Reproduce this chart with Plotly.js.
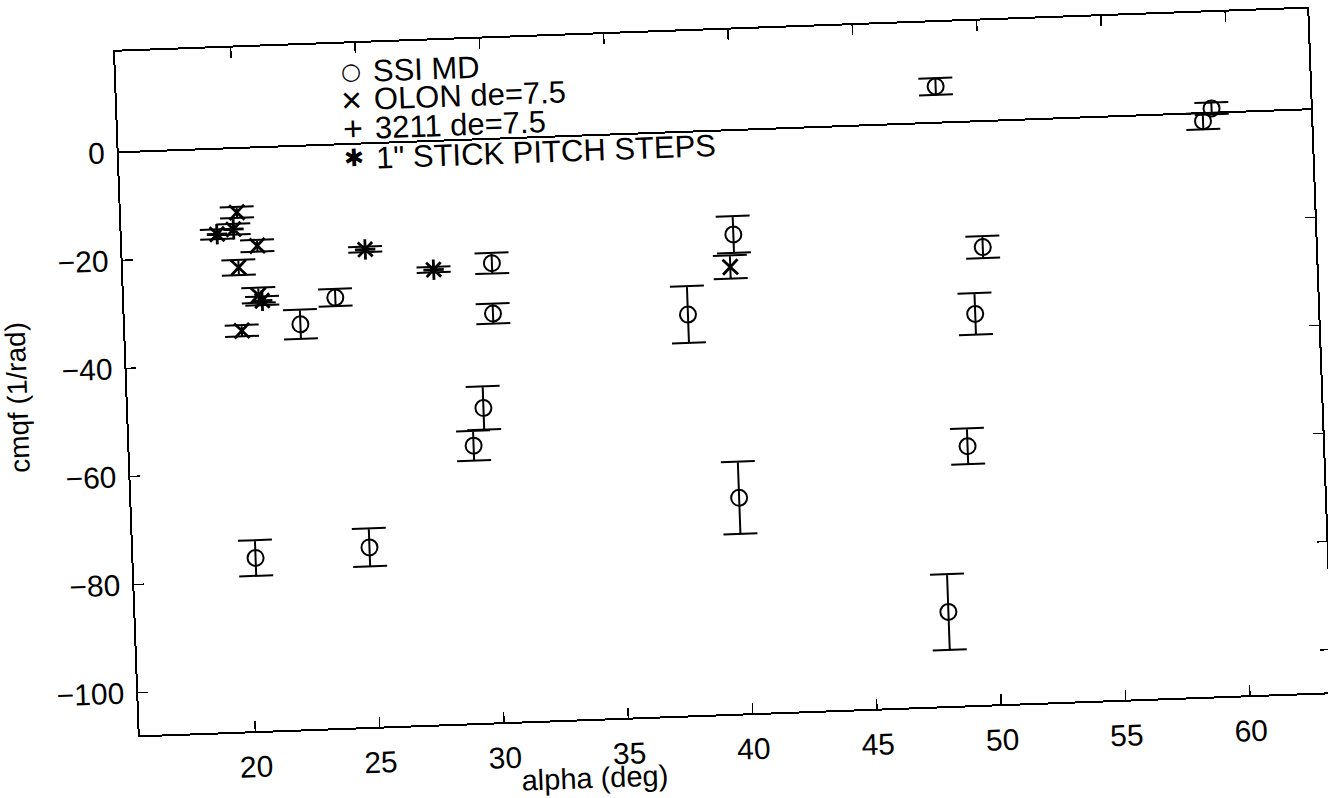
<!DOCTYPE html>
<html>
<head>
<meta charset="utf-8">
<script src="https://cdn.plot.ly/plotly-3.0.1.min.js"></script>
<style>
html,body{margin:0;padding:0;background:#fff;overflow:hidden;}
#chart{width:1328px;height:798px;transform:rotate(-2.07deg);transform-origin:723.5px 372px;}
</style>
</head>
<body>
<div id="chart"></div>
<script>
// SSI MD (circles)
const ssiAlpha = [20.26, 24.85, 22.40, 23.84, 30.18, 30.15, 29.63, 29.18, 39.92, 37.98, 39.77, 48.26, 49.92, 49.52, 49.02, 48.01, 59.31, 58.95];
const ssiCmqf  = [-75.9, -74.7, -33.0, -28.3, -23.0, -32.3, -49.7, -56.6, -19.3, -33.8, -68.0, 6.7, -23.3, -35.6, -60.0, -90.5, 0.8, -1.5];
const ssiErr   = [3.3, 3.5, 2.7, 1.6, 1.9, 1.85, 4.0, 2.75, 3.4, 5.25, 6.7, 1.55, 2.05, 3.85, 3.3, 7.0, 1.1, 1.5];

// OLON de=7.5 (x marks)
const olonAlpha = [20.01, 20.78, 20.00, 20.76, 20.04, 39.75];
const olonCmqf  = [-11.9, -18.2, -22.1, -27.35, -33.8, -25.3];
const olonErr   = [1.0, 1.1, 1.4, 1.4, 1.05, 2.15];

// 1" STICK PITCH STEPS (asterisks)
const stickAlpha = [19.18, 19.85, 20.90, 25.11, 27.83];
const stickCmqf  = [-15.8, -15.0, -28.4, -19.6, -23.8];
const stickErr   = [0.9, 1.0, 0.8, 0.5, 0.5];

const xTicks = [20, 25, 30, 35, 40, 45, 50, 55, 60];
const yTicks = [-100, -80, -60, -40, -20, 0];

const legendLabels  = ['SSI MD', 'OLON de=7.5', '3211 de=7.5', '1" STICK PITCH STEPS'];
const legendSymbols = ['\u25CB', '\u00D7', '+', '\u2731'];

const FONT = 'Liberation Sans, Arial, Helvetica, sans-serif';

function errBar(arr) {
  return {type: 'data', array: arr, visible: true, color: '#000', thickness: 2, width: 17};
}

const traces = [
  {type: 'scatter', mode: 'markers', name: legendLabels[0], x: ssiAlpha, y: ssiCmqf,
   error_y: errBar(ssiErr),
   marker: {symbol: 'circle-open', size: 16, color: '#000', line: {width: 2, color: '#000'}},
   showlegend: false, cliponaxis: false},
  {type: 'scatter', mode: 'markers', name: legendLabels[1], x: olonAlpha, y: olonCmqf,
   error_y: errBar(olonErr),
   marker: {symbol: 'x-thin-open', size: 15, color: '#000', line: {width: 2.8, color: '#000'}},
   showlegend: false, cliponaxis: false},
  {type: 'scatter', mode: 'markers', name: legendLabels[3], x: stickAlpha, y: stickCmqf,
   error_y: errBar(stickErr),
   marker: {symbol: 'asterisk-open', size: 17, color: '#000', line: {width: 2.8, color: '#000'}},
   showlegend: false, cliponaxis: false}
];

const legRowY = [13.4, 8.1, 2.8, -2.7];
const annotations = [];
legendLabels.forEach(function (lab, i) {
  annotations.push({xref: 'x', yref: 'y', x: 25.6, y: legRowY[i], text: lab, showarrow: false,
    xanchor: 'left', yanchor: 'middle', font: {family: FONT, size: 31, color: '#000'}});
  const symSize = [23, 36, 34, 24][i];
  const symFont = ['DejaVu Sans', FONT, FONT, 'DejaVu Sans'][i];
  annotations.push({xref: 'x', yref: 'y', x: 24.78, y: legRowY[i], text: legendSymbols[i], showarrow: false,
    xanchor: 'center', yanchor: 'middle', font: {family: symFont, size: symSize, color: '#000'}});
});
annotations.push({xref: 'paper', yref: 'paper', x: 0.38, y: 0, yshift: -59, text: 'alpha (deg)',
  showarrow: false, xanchor: 'center', yanchor: 'middle', font: {family: FONT, size: 29, color: '#000'}});

const axisCommon = {
  ticks: 'inside', ticklen: 10, tickwidth: 1.5, tickcolor: '#000',
  showline: true, linewidth: 2, linecolor: '#000', mirror: 'ticks',
  showgrid: false, tickfont: {family: FONT, size: 30, color: '#000'}
};

const layout = {
  width: 1328, height: 798,
  margin: {l: 126.75, r: 7.75, t: 29.8, b: 83.8, pad: 0},
  paper_bgcolor: '#fff', plot_bgcolor: '#fff',
  font: {family: FONT, color: '#000'},
  showlegend: false,
  xaxis: Object.assign({}, axisCommon, {
    range: [15.35, 63.3], tickmode: 'array', tickvals: xTicks, ticktext: xTicks.map(String),
    zeroline: false, ticklabelstandoff: 8
  }),
  yaxis: Object.assign({}, axisCommon, {
    range: [-107.9, 18.6], tickmode: 'array', tickvals: yTicks,
    zeroline: true, zerolinecolor: '#000', zerolinewidth: 2, ticklabelstandoff: 6,
    title: {text: 'cmqf (1/rad)', font: {family: FONT, size: 28, color: '#000'}, standoff: 10}
  }),
  annotations: annotations
};

Plotly.newPlot('chart', traces, layout, {staticPlot: true, displayModeBar: false});
</script>
</body>
</html>
